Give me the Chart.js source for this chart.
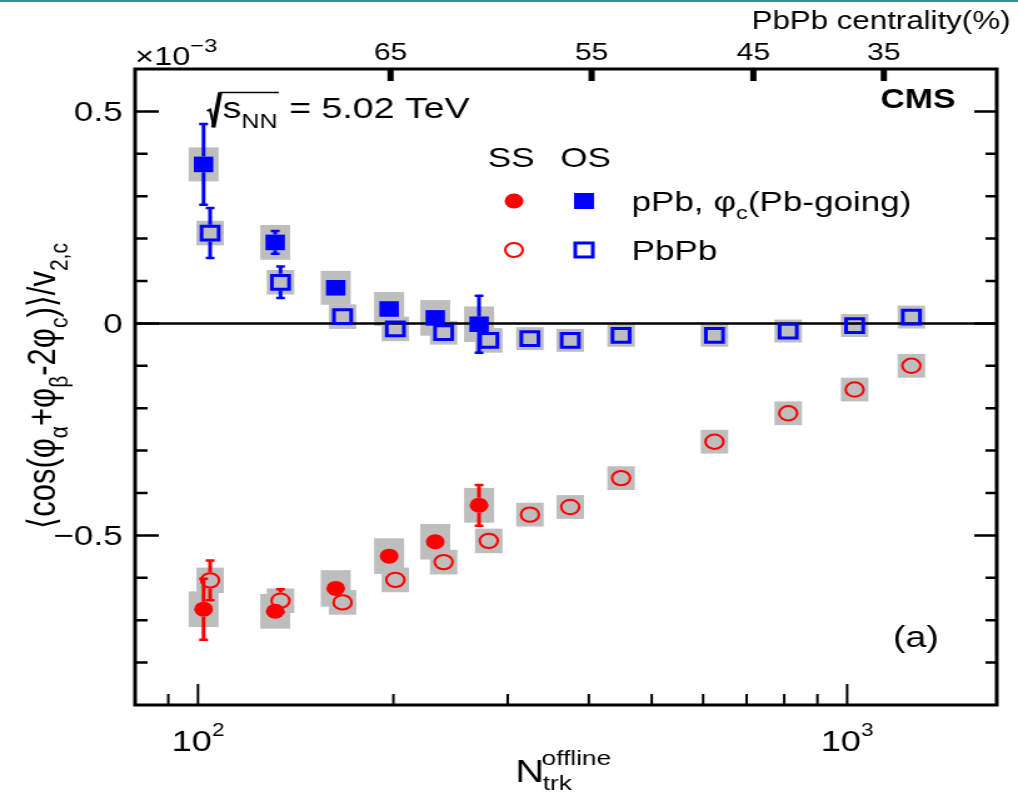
<!DOCTYPE html>
<html>
<head>
<meta charset="utf-8">
<script src="https://cdn.jsdelivr.net/npm/chart.js"></script>
<style>
  html, body { margin: 0; padding: 0; background: #fff; }
  body { width: 1018px; height: 792px; overflow: hidden; position: relative; }
  #topLine { position: absolute; left: 0; top: 0; width: 1018px; height: 2px; background: #3a8d90; }
  /* the original figure is stretched sideways, so draw narrow and widen */
  #wrap { position: absolute; left: 0; top: 0; width: 814px; height: 792px; transform: scaleX(1.2506); transform-origin: 0 0; }
</style>
</head>
<body>
<div id="wrap"><canvas id="chart"></canvas></div>
<div id="topLine"></div>
<script>
// pPb, phi_c (Pb-going)
const pPbX = [102, 131.5, 163, 197, 232, 271];
const pPbOS = [0.375, 0.191, 0.084, 0.034, 0.013, -0.002];
const pPbOSStat = [0.095, 0.027, 0.012, 0.010, 0.012, 0.067];
const pPbOSSys = [0.040, 0.041, 0.040, 0.040, 0.042, 0.042];
const pPbSS = [-0.674, -0.679, -0.625, -0.549, -0.515, -0.429];
const pPbSSStat = [0.072, 0.015, 0.012, 0.012, 0.012, 0.048];
const pPbSSSys = [0.042, 0.041, 0.043, 0.042, 0.042, 0.041];

// PbPb
const PbPbX = [104.4, 134, 167, 201.4, 239, 280.5, 324.6, 374.5, 448.5, 624.6, 811.3, 1027, 1256];
const PbPbOS = [0.213, 0.097, 0.016, -0.013, -0.022, -0.040, -0.036, -0.040, -0.028, -0.028, -0.018, -0.005, 0.015];
const PbPbOSStat = [0.059, 0.037, 0.012, 0.010, 0.010, 0.010, 0.008, 0.008, 0.008, 0.008, 0.008, 0.008, 0.008];
const PbPbOSSys = [0.029, 0.029, 0.029, 0.029, 0.028, 0.029, 0.027, 0.027, 0.027, 0.027, 0.027, 0.027, 0.027];
const PbPbSS = [-0.606, -0.654, -0.658, -0.605, -0.563, -0.513, -0.451, -0.433, -0.365, -0.279, -0.212, -0.156, -0.100];
const PbPbSSStat = [0.047, 0.027, 0.010, 0.010, 0.010, 0.010, 0.008, 0.008, 0.008, 0.008, 0.008, 0.008, 0.008];
const PbPbSSSys = [0.030, 0.029, 0.029, 0.029, 0.029, 0.029, 0.028, 0.028, 0.028, 0.028, 0.028, 0.028, 0.028];

// axes
const xMin = 80, xMax = 1700;
const yMin = -0.9, yMax = 0.6;
const xMajor = [100, 1000];
const xMajorExp = ['2', '3'];
const xMinor = [90, 200, 300, 400, 500, 600, 700, 800, 900];
const yMajor = [-0.5, 0, 0.5];
const yMinor = [-0.8, -0.7, -0.6, -0.4, -0.3, -0.2, -0.1, 0.1, 0.2, 0.3, 0.4];
const centralityLabels = ['65', '55', '45', '35'];
const centralityNtrk = [198, 404, 717, 1139];

const RED = '#ff0000';
const BLUE = '#0000ff';
const GREY = '#bebebe';
const FONT = '"Liberation Sans", Arial, "DejaVu Sans", sans-serif';

function font(size, bold) {
    return (bold ? 'bold ' : '') + size + 'px ' + FONT;
}

function pts(xs, ys) {
    return xs.map((x, i) => ({ x: x, y: ys[i] }));
}

// runs: [text, size, dy, bold]
function drawRuns(ctx, runs, x, y, align) {
    let w = 0;
    runs.forEach(r => { ctx.font = font(r[1], r[3]); w += ctx.measureText(r[0]).width; });
    let cx = align === 'center' ? x - w / 2 : (align === 'right' ? x - w : x);
    ctx.textAlign = 'left';
    ctx.textBaseline = 'alphabetic';
    runs.forEach(r => {
        ctx.font = font(r[1], r[3]);
        ctx.fillText(r[0], cx, y + (r[2] || 0));
        cx += ctx.measureText(r[0]).width;
    });
    return cx;
}

// gap = half marker height, error bars start outside it (as ROOT does)
const series = [
    { x: PbPbX, y: PbPbOS, stat: PbPbOSStat, sys: PbPbOSSys, color: BLUE, half: 11, gap: 8.4 },
    { x: PbPbX, y: PbPbSS, stat: PbPbSSStat, sys: PbPbSSSys, color: RED, half: 11, gap: 8.2 },
    { x: pPbX, y: pPbOS, stat: pPbOSStat, sys: pPbOSSys, color: BLUE, half: 12, gap: 7.8 },
    { x: pPbX, y: pPbSS, stat: pPbSSStat, sys: pPbSSSys, color: RED, half: 12, gap: 7.5 }
];

function legendMarker(ctx, kind, x, y) {
    ctx.save();
    ctx.beginPath();
    if (kind === 'fc') {
        ctx.fillStyle = RED; ctx.arc(x, y, 7.5, 0, 2 * Math.PI); ctx.fill();
    } else if (kind === 'oc') {
        ctx.strokeStyle = RED; ctx.lineWidth = 2; ctx.arc(x, y, 7, 0, 2 * Math.PI); ctx.stroke();
    } else if (kind === 'fs') {
        ctx.fillStyle = BLUE; ctx.fillRect(x - 8, y - 8, 16, 16);
    } else {
        ctx.strokeStyle = BLUE; ctx.lineWidth = 3; ctx.strokeRect(x - 7, y - 7, 14, 14);
    }
    ctx.restore();
}

const decor = {
    id: 'decor',
    beforeDatasetsDraw(chart) {
        const ctx = chart.ctx, xs = chart.scales.x, ys = chart.scales.y, a = chart.chartArea;
        ctx.save();
        ctx.beginPath();
        ctx.rect(a.left, a.top, a.right - a.left, a.bottom - a.top);
        ctx.clip();
        // systematic boxes
        ctx.fillStyle = GREY;
        series.forEach(s => s.y.forEach((v, i) => {
            const px = xs.getPixelForValue(s.x[i]);
            const t = ys.getPixelForValue(v + s.sys[i]);
            const b = ys.getPixelForValue(v - s.sys[i]);
            ctx.fillRect(px - s.half, t, 2 * s.half, b - t);
        }));
        // zero line
        const y0 = ys.getPixelForValue(0);
        ctx.strokeStyle = '#000';
        ctx.lineWidth = 2.5;
        ctx.beginPath();
        ctx.moveTo(a.left, y0);
        ctx.lineTo(a.right, y0);
        ctx.stroke();
        // statistical error bars, only the part outside the marker
        series.forEach(s => s.y.forEach((v, i) => {
            const px = xs.getPixelForValue(s.x[i]);
            const py = ys.getPixelForValue(v);
            const t = ys.getPixelForValue(v + s.stat[i]);
            const b = ys.getPixelForValue(v - s.stat[i]);
            if (py - t <= s.gap) return;
            ctx.strokeStyle = s.color;
            ctx.lineWidth = 3;
            ctx.beginPath();
            ctx.moveTo(px, t); ctx.lineTo(px, py - s.gap);
            ctx.moveTo(px, py + s.gap); ctx.lineTo(px, b);
            ctx.stroke();
            ctx.lineWidth = 2.5;
            ctx.beginPath();
            ctx.moveTo(px - 3.5, t); ctx.lineTo(px + 3.5, t);
            ctx.moveTo(px - 3.5, b); ctx.lineTo(px + 3.5, b);
            ctx.stroke();
        }));
        ctx.restore();
    },
    afterDraw(chart) {
        const ctx = chart.ctx, xs = chart.scales.x, xt = chart.scales.xTop, ys = chart.scales.y, a = chart.chartArea;
        ctx.save();
        ctx.strokeStyle = '#000';
        ctx.fillStyle = '#000';

        // frame
        ctx.lineWidth = 3;
        ctx.strokeRect(a.left, a.top, a.right - a.left, a.bottom - a.top);

        // bottom ticks (inward)
        ctx.lineWidth = 2;
        ctx.beginPath();
        xMajor.forEach(v => { const p = xs.getPixelForValue(v); ctx.moveTo(p, a.bottom); ctx.lineTo(p, a.bottom - 21); });
        xMinor.forEach(v => { const p = xs.getPixelForValue(v); ctx.moveTo(p, a.bottom); ctx.lineTo(p, a.bottom - 11); });
        ctx.stroke();

        // left and right ticks
        ctx.lineWidth = 2.5;
        ctx.beginPath();
        yMajor.forEach(v => {
            const p = ys.getPixelForValue(v);
            ctx.moveTo(a.left, p); ctx.lineTo(a.left + 19, p);
            ctx.moveTo(a.right, p); ctx.lineTo(a.right - 18, p);
        });
        yMinor.forEach(v => {
            const p = ys.getPixelForValue(v);
            ctx.moveTo(a.left, p); ctx.lineTo(a.left + 10, p);
            ctx.moveTo(a.right, p); ctx.lineTo(a.right - 9, p);
        });
        ctx.stroke();

        // top centrality ticks
        ctx.lineWidth = 5;
        ctx.beginPath();
        centralityNtrk.forEach(v => { const p = xt.getPixelForValue(v); ctx.moveTo(p, a.top); ctx.lineTo(p, a.top + 12); });
        ctx.stroke();

        // y tick labels
        ctx.font = font(28);
        ctx.textAlign = 'right';
        ctx.textBaseline = 'alphabetic';
        yMajor.forEach(v => {
            const txt = v === 0 ? '0' : (v < 0 ? '\u2212' + Math.abs(v).toFixed(1) : v.toFixed(1));
            ctx.fillText(txt, a.left - 10, ys.getPixelForValue(v) + 10);
        });

        // x tick labels 10^n
        xMajor.forEach((v, i) => {
            drawRuns(ctx, [['10', 29], [xMajorExp[i], 18, -15]], xs.getPixelForValue(v), 751, 'center');
        });

        // top labels
        ctx.font = font(24);
        ctx.textAlign = 'center';
        centralityNtrk.forEach((v, i) => ctx.fillText(centralityLabels[i], xt.getPixelForValue(v), 60));
        ctx.font = font(25);
        ctx.textAlign = 'right';
        ctx.fillText('PbPb centrality(%)', 808, 29);

        // x10^-3
        drawRuns(ctx, [['\u00d710', 26], ['\u22123', 19, -13]], a.left, 65, 'left');

        // axis titles
        drawRuns(ctx, [['N', 32]], 412, 782, 'left');
        drawRuns(ctx, [['offline', 21]], 433, 765, 'left');
        drawRuns(ctx, [['trk', 21]], 434, 790, 'left');

        ctx.save();
        ctx.translate(44, 386);
        ctx.rotate(-Math.PI / 2);
        drawRuns(ctx, [
            ['\u27e8cos(\u03c6', 31], ['\u03b1', 21, 10], ['+\u03c6', 31], ['\u03b2', 21, 10],
            ['-2\u03c6', 31], ['c', 21, 10], [')\u27e9/v', 31], ['2,c', 21, 10]
        ], 0, 0, 'center');
        ctx.restore();

        // sqrt(s_NN) = 5.02 TeV
        ctx.lineJoin = 'miter';
        ctx.lineWidth = 2;
        ctx.beginPath();
        ctx.moveTo(165.5, 111); ctx.lineTo(168, 109.5); ctx.lineTo(171, 127);
        ctx.stroke();
        ctx.lineWidth = 3.5;
        ctx.beginPath();
        ctx.moveTo(170.5, 127.5); ctx.lineTo(176, 92.5);
        ctx.stroke();
        const sEnd = drawRuns(ctx, [['s', 30], ['NN', 20, 10]], 178, 118, 'left');
        ctx.lineWidth = 1.5;
        ctx.beginPath();
        ctx.moveTo(175.5, 92.5); ctx.lineTo(sEnd + 1, 92.5);
        ctx.stroke();
        drawRuns(ctx, [[' = 5.02 TeV', 30]], sEnd + 1, 118, 'left');

        // CMS, (a)
        drawRuns(ctx, [['CMS', 27, 0, true]], 764, 108, 'right');
        drawRuns(ctx, [['(a)', 30]], 714, 647, 'left');

        // legend
        drawRuns(ctx, [['SS', 28]], 390, 167, 'left');
        drawRuns(ctx, [['OS', 28]], 448, 167, 'left');
        legendMarker(ctx, 'fc', 411, 201);
        legendMarker(ctx, 'fs', 467, 201);
        legendMarker(ctx, 'oc', 411, 250);
        legendMarker(ctx, 'os', 467, 250);
        drawRuns(ctx, [['pPb, \u03c6', 28], ['c', 19, 8], ['(Pb-going)', 28]], 505, 211, 'left');
        drawRuns(ctx, [['PbPb', 28]], 505, 260, 'left');

        ctx.restore();
    }
};

const hiddenAxis = {
    grid: { display: false },
    border: { display: false },
    ticks: { display: false }
};

new Chart(document.getElementById('chart'), {
    type: 'scatter',
    data: {
        datasets: [
            { label: 'pPb OS', data: pts(pPbX, pPbOS), pointStyle: 'rect', pointRadius: 11, pointBorderWidth: 0,
              pointBackgroundColor: BLUE, pointBorderColor: BLUE },
            { label: 'pPb SS', data: pts(pPbX, pPbSS), pointStyle: 'circle', pointRadius: 7.5, pointBorderWidth: 0,
              pointBackgroundColor: RED, pointBorderColor: RED },
            { label: 'PbPb OS', data: pts(PbPbX, PbPbOS), pointStyle: 'rect', pointRadius: 9.7, pointBorderWidth: 3,
              pointBackgroundColor: 'rgba(0,0,0,0)', pointBorderColor: BLUE },
            { label: 'PbPb SS', data: pts(PbPbX, PbPbSS), pointStyle: 'circle', pointRadius: 7.2, pointBorderWidth: 2,
              pointBackgroundColor: 'rgba(0,0,0,0)', pointBorderColor: RED }
        ]
    },
    options: {
        animation: false,
        responsive: true,
        maintainAspectRatio: false,
        layout: { padding: 0 },
        events: [],
        plugins: { legend: { display: false }, tooltip: { enabled: false } },
        scales: {
            x: { ...hiddenAxis, type: 'logarithmic', position: 'bottom', min: xMin, max: xMax,
                 afterFit: s => { s.height = 87; } },
            xTop: { ...hiddenAxis, type: 'logarithmic', position: 'top', min: xMin, max: xMax,
                 afterFit: s => { s.height = 69; } },
            y: { ...hiddenAxis, type: 'linear', position: 'left', min: yMin, max: yMax,
                 afterFit: s => { s.width = 108; } },
            yRight: { ...hiddenAxis, type: 'linear', position: 'right', min: yMin, max: yMax,
                 afterFit: s => { s.width = 17; } }
        }
    },
    plugins: [decor]
});
</script>
</body>
</html>
